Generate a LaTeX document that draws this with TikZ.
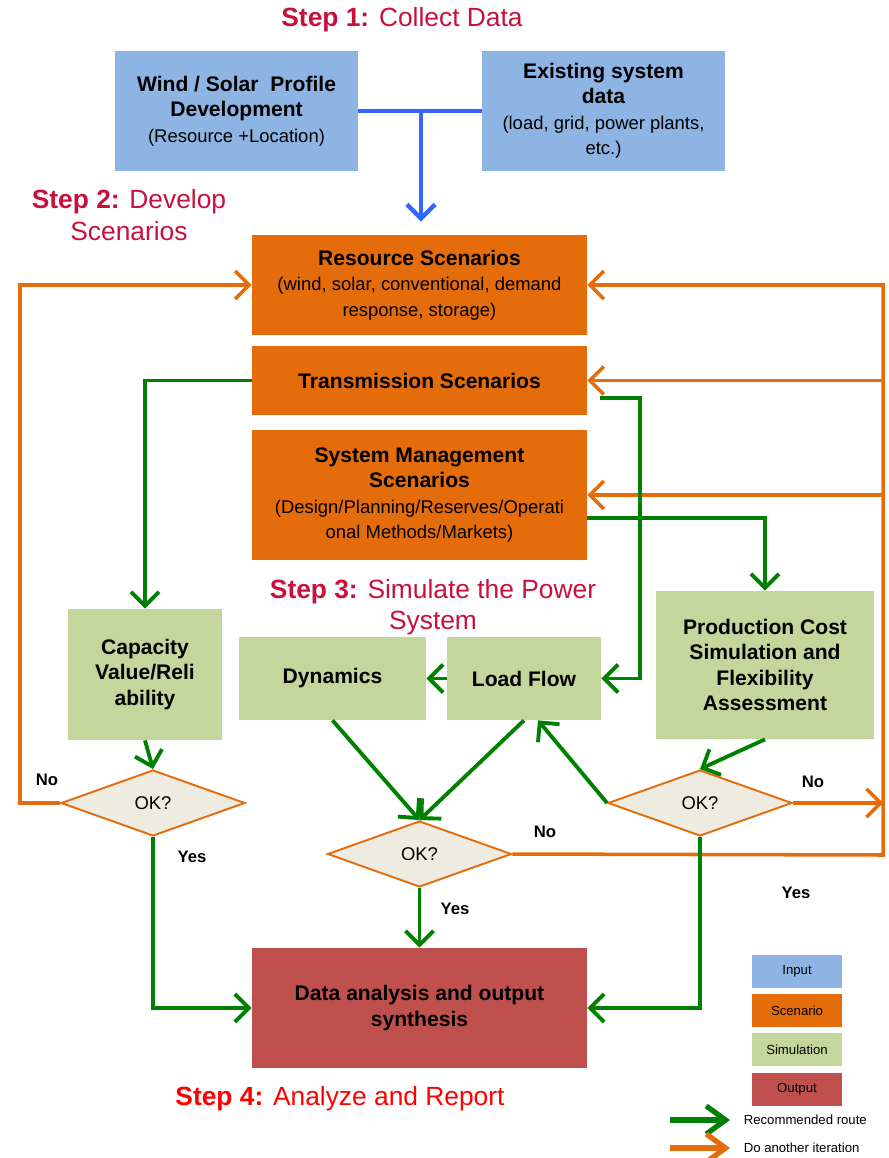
\documentclass[tikz,border=0pt]{standalone}
\usepackage{fontspec}
\setmainfont{Liberation Sans}
\usetikzlibrary{shapes.geometric,arrows.meta}
\definecolor{inblue}{RGB}{142,180,227}
\definecolor{scorange}{RGB}{228,108,10}
\definecolor{simgreen}{RGB}{195,214,155}
\definecolor{outred}{RGB}{192,80,77}
\definecolor{okfill}{RGB}{238,236,225}
\definecolor{recgreen}{RGB}{0,128,0}
\definecolor{linkblue}{RGB}{51,102,255}
\definecolor{stepred}{RGB}{200,16,60}
\newcommand{\bigtxt}{\fontsize{12}{14.5}\selectfont\bfseries}
\newcommand{\subtxt}{\fontsize{10.5}{12.5}\selectfont\mdseries}

\begin{document}
\begin{tikzpicture}[x=0.02cm,y=-0.02cm,
  box/.style={rectangle,inner sep=2pt,align=center,font=\bigtxt},
  inbox/.style={box,fill=inblue,minimum width=4.86cm,minimum height=2.4cm},
  scbox/.style={box,fill=scorange,minimum width=6.7cm},
  simbox/.style={box,fill=simgreen},
  okbox/.style={shape=diamond,draw=scorange,line width=1.1pt,fill=okfill,inner sep=0pt,
    minimum width=3.68cm,minimum height=1.32cm,font=\fontsize{10.5}{12}\selectfont},
  rec/.style={draw=recgreen,line width=2.2pt,-{Straight Barb[length=8pt,width=16pt]}},
  iter/.style={draw=scorange,line width=2pt,-{Straight Barb[length=8pt,width=16pt]}},
  yesno/.style={font=\fontsize{9.5}{11}\selectfont\bfseries},
  steptitle/.style={font=\fontsize{15}{18}\selectfont,text=stepred,align=center},
  key/.style={rectangle,minimum width=1.8cm,minimum height=0.66cm,font=\fontsize{7.5}{9}\selectfont}]
  \useasboundingbox (0,0) rectangle (888,1158);

  \node[steptitle] (s1) at (402,20) {\textbf{Step 1:} Collect Data};
  \node[steptitle] (s2) at (129,215) {\textbf{Step 2:} Develop\\Scenarios};
  \node[steptitle] (s3) at (433,607) {\textbf{Step 3:} Simulate the Power\\System};
  \node[steptitle,text=red] (s4) at (340,1099) {\textbf{Step 4:} Analyze and Report};

  \node[inbox] (wind) at (236.5,111) {Wind / Solar\ \ Profile\\Development\\{\subtxt(Resource +Location)}};
  \node[inbox] (exist) at (603.5,111) {Existing system\\data\\{\subtxt(load, grid, power plants,}\\{\subtxt etc.)}};

  \node[scbox,minimum height=2.0cm] (res) at (419.5,285) {Resource Scenarios\\{\subtxt(wind, solar, conventional, demand}\\{\subtxt response, storage)}};
  \node[scbox,minimum height=1.38cm] (trans) at (419.5,380.5) {Transmission Scenarios};
  \node[scbox,minimum height=2.6cm] (sysm) at (419.5,495) {System Management\\Scenarios\\{\subtxt(Design/Planning/Reserves/Operati}\\{\subtxt onal Methods/Markets)}};

  \node[simbox,minimum width=3.08cm,minimum height=2.62cm] (cap) at (145,674.5) {Capacity\\Value/Reli\\ability};
  \node[simbox,minimum width=3.74cm,minimum height=1.66cm] (dyn) at (332.5,678.5) {Dynamics};
  \node[simbox,minimum width=3.08cm,minimum height=1.66cm] (lf) at (524,678.5) {Load Flow};
  \node[simbox,minimum width=4.36cm,minimum height=2.96cm] (prod) at (765,665) {Production Cost\\Simulation and\\Flexibility\\Assessment};

  \node[okbox] (ok1) at (153,803) {OK?};
  \node[okbox] (ok2) at (419.5,854) {OK?};
  \node[okbox] (ok3) at (700,803) {OK?};

  \node[box,fill=outred,minimum width=6.7cm,minimum height=2.4cm] (out) at (419.5,1008) {Data analysis and output\\synthesis};

  \coordinate (join) at (421,111);
  \draw[draw=linkblue,line width=2.5pt] (wind.east) -- (exist.west);
  \draw[draw=linkblue,line width=2.5pt,-{Straight Barb[length=8pt,width=16pt]},shorten >=0.26cm] (join) -- (join |- res.north);

  \coordinate (lrail) at (20,803);
  \coordinate (rrail) at (883,855);
  \draw[iter] (ok1.west) -- (lrail) |- (res.west);
  \draw[iter] (ok2.east) -- (rrail) -- (rrail |- res.east) -- (res.east);
  \draw[iter] (rrail |- trans.east) -- (trans.east);
  \draw[iter] (rrail |- sysm.east) -- (sysm.east);
  \draw[iter] (ok3.east) -- (rrail |- ok3.east);

  \coordinate (tx) at (600,398);
  \draw[rec] (trans.west) -| (cap.north);
  \draw[rec] (tx) -- (640,398) |- (lf.east);
  \draw[rec] ([yshift=-0.46cm]sysm.east) -| (prod.north);
  \draw[rec] (cap.south) -- (ok1.north);
  \draw[rec] (lf.west) -- (dyn.east);
  \draw[rec] (dyn.south) -- (ok2.north);
  \draw[rec] (lf.south) -- (ok2.north);
  \draw[rec] (ok3.west) -- ([xshift=0.28cm]lf.south);
  \draw[rec] (prod.south) -- (ok3.north);
  \draw[rec] (ok1.south) |- (out.west);
  \draw[rec] (ok2.south) -- (out.north);
  \draw[rec] (ok3.south) |- (out.east);

  \node[yesno] (no1) at (47,780) {No};
  \node[yesno] (yes1) at (192,857) {Yes};
  \node[yesno] (no2) at (545,832) {No};
  \node[yesno] (yes2) at (455,909) {Yes};
  \node[yesno] (no3) at (813,782) {No};
  \node[yesno] (yes3) at (796,893) {Yes};

  \node[key,fill=inblue] (kin) at (797,971.5) {Input};
  \node[key,fill=scorange] (ksc) at (797,1010.5) {Scenario};
  \node[key,fill=simgreen] (ksim) at (797,1049.5) {Simulation};
  \node[key,fill=outred] (kout) at (797,1089.5) {Output};
  \coordinate (ka) at (670,1120);
  \coordinate (kb) at (670,1148);
  \draw[draw=recgreen,line width=3pt,-{Straight Barb[length=11pt,width=16pt]}] (ka) -- ++(60,0) node[right=3pt,black,font=\fontsize{7.5}{9}\selectfont] {Recommended route};
  \draw[draw=scorange,line width=3pt,-{Straight Barb[length=11pt,width=16pt]}] (kb) -- ++(60,0) node[right=3pt,black,font=\fontsize{7.5}{9}\selectfont] {Do another iteration};
\end{tikzpicture}
\end{document}
